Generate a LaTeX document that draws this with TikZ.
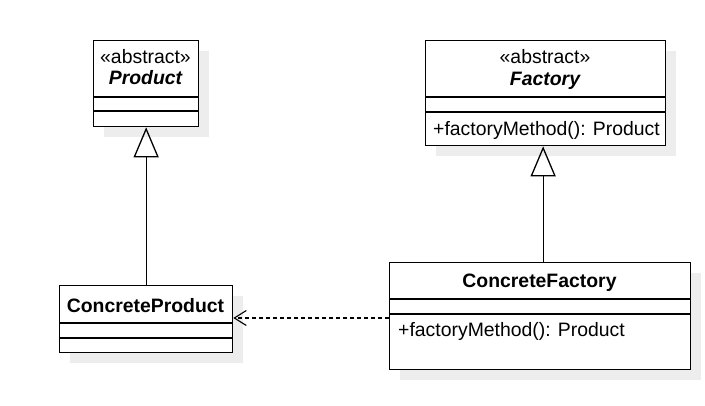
\documentclass[tikz,border=0pt]{standalone}
\usepackage{fontspec}
\setmainfont{Liberation Sans}
\usetikzlibrary{arrows.meta,shadows}
\begin{document}
\begin{tikzpicture}[x=1pt,y=-1pt,
  every node/.style={font=\fontsize{19.4}{23}\selectfont},
  classbox/.style={draw=black,line width=1.3pt,fill=white,anchor=north west,inner sep=0pt,
    drop shadow={shadow xshift=10pt,shadow yshift=-10pt,fill=black!7,opacity=1}},
  sep/.style={line width=1.3pt},
  label/.style={inner sep=0pt,anchor=base},
  member/.style={inner sep=0pt,anchor=base west},
  inherit/.style={line width=1.3pt,-{Triangle[open,length=30pt,width=25pt,line width=1.3pt]}},
  depend/.style={line width=1.1pt,dash pattern=on 4pt off 3pt,-{Straight Barb[length=12pt,width=15pt,line width=1.1pt]}}]
  \fill[white] (0,0) rectangle (705,405);
  \useasboundingbox (0,0) rectangle (705,405);

  % abstract product
  \node[classbox,minimum width=105pt,minimum height=86pt] (prod) at (93,40) {};
  \draw[sep] (prod.west |- 0,97) -- (prod.east |- 0,97);
  \draw[sep] (prod.west |- 0,111) -- (prod.east |- 0,111);
  \node[label] (prodst) at (145.5,63) {«abstract»};
  \node[label] (prodname) at (145.5,84) {\bfseries\itshape Product};

  % abstract factory
  \node[classbox,minimum width=240pt,minimum height=105pt] (fac) at (425,40) {};
  \draw[sep] (fac.west |- 0,97) -- (fac.east |- 0,97);
  \draw[sep] (fac.west |- 0,112) -- (fac.east |- 0,112);
  \node[label] (facst) at (545,63) {«abstract»};
  \node[label] (facname) at (545,85) {\bfseries\itshape Factory};
  \node[member] (facop) at (433,135) {+factoryMethod(): Product};

  % concrete product
  \node[classbox,minimum width=173pt,minimum height=67pt] (cp) at (59,285) {};
  \draw[sep] (cp.west |- 0,323) -- (cp.east |- 0,323);
  \draw[sep] (cp.west |- 0,338) -- (cp.east |- 0,338);
  \node[label] (cpname) at (145.5,312) {\bfseries ConcreteProduct};

  % concrete factory
  \node[classbox,minimum width=301pt,minimum height=107pt] (cf) at (389,262) {};
  \draw[sep] (cf.west |- 0,299) -- (cf.east |- 0,299);
  \draw[sep] (cf.west |- 0,314) -- (cf.east |- 0,314);
  \node[label] (cfname) at (539.5,287) {\bfseries ConcreteFactory};
  \node[member] (cfop) at (398,336) {+factoryMethod(): Product};

  % relations
  \draw[inherit] (cp.north) -- (prod.south);
  \coordinate (cfup) at ([xshift=3pt]cf.north);
  \draw[inherit] (cfup) -- (cfup |- fac.south);
  \coordinate (depfrom) at (cf.west |- 0,318);
  \draw[depend] (depfrom) -- (cp.east |- depfrom);
\end{tikzpicture}
\end{document}
